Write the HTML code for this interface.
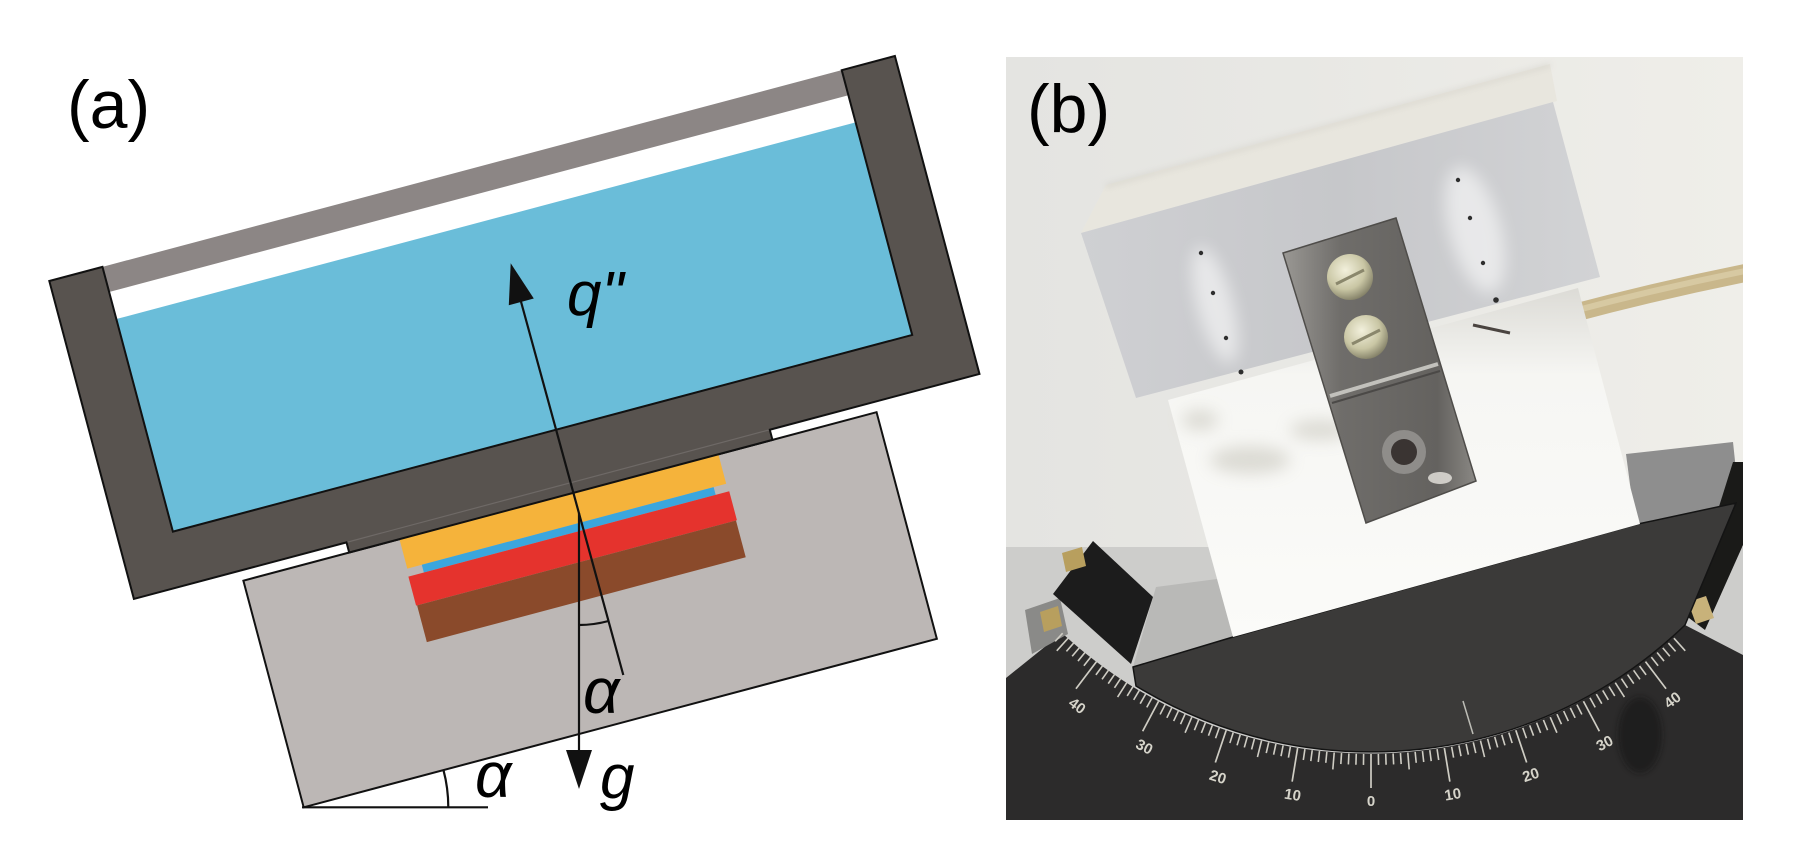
<!DOCTYPE html>
<html><head><meta charset="utf-8">
<style>
html,body{margin:0;padding:0;background:#fff;}
svg{display:block;}
text{font-family:"Liberation Sans",Arial,sans-serif;}
</style></head>
<body>
<svg width="1793" height="868" viewBox="0 0 1793 868" xmlns="http://www.w3.org/2000/svg">
<defs>
 <clipPath id="pc"><rect x="1006" y="57" width="737" height="763"/></clipPath>
 <filter id="blur8" x="-50%" y="-50%" width="200%" height="200%"><feGaussianBlur stdDeviation="8"/></filter>
 <filter id="blur3" x="-50%" y="-50%" width="200%" height="200%"><feGaussianBlur stdDeviation="3"/></filter>
 <linearGradient id="bgp" x1="0" y1="0" x2="1" y2="0">
  <stop offset="0" stop-color="#e4e4e1"/><stop offset="1" stop-color="#efeee9"/>
 </linearGradient>
 <linearGradient id="wb" x1="0" y1="0" x2="0" y2="1">
  <stop offset="0" stop-color="#dcdbd6"/><stop offset="0.25" stop-color="#f6f6f3"/><stop offset="1" stop-color="#fbfbf9"/>
 </linearGradient>
 <linearGradient id="al" x1="0" y1="0" x2="1" y2="0">
  <stop offset="0" stop-color="#cfd0d3"/><stop offset="0.5" stop-color="#c6c7ca"/><stop offset="1" stop-color="#d2d3d5"/>
 </linearGradient>
 <linearGradient id="br" x1="0" y1="0" x2="1" y2="0">
  <stop offset="0" stop-color="#9a9894"/><stop offset="0.3" stop-color="#6f6d6a"/><stop offset="0.8" stop-color="#64625f"/><stop offset="1" stop-color="#8a8884"/>
 </linearGradient>
 <radialGradient id="sc" cx="0.4" cy="0.35" r="0.7">
  <stop offset="0" stop-color="#f2f0dc"/><stop offset="0.6" stop-color="#c9c6a4"/><stop offset="1" stop-color="#7d7a62"/>
 </radialGradient>
 <line id="tm" x1="1371" y1="754" x2="1371" y2="765" stroke="#cfcdc4" stroke-width="1.6"/>
 <line id="t5" x1="1371" y1="754" x2="1371" y2="771" stroke="#cfcdc4" stroke-width="1.6"/>
 <line id="tt" x1="1371" y1="754" x2="1371" y2="788" stroke="#cfcdc4" stroke-width="1.7"/>
</defs>
<rect width="1793" height="868" fill="#fff"/>

<!-- ============ PANEL (a) ============ -->
<g transform="translate(49.3 281) rotate(-14.9)">
  <rect x="110.5" y="339.5" width="655.2" height="234.5" fill="#bcb7b5" stroke="#111" stroke-width="2"/>
  <rect x="272" y="340" width="330" height="30" fill="#f5b33b"/>
  <rect x="287" y="370" width="302" height="8" fill="#3ba6dd"/>
  <rect x="271" y="378" width="332" height="30" fill="#e5332d"/>
  <rect x="272" y="408" width="330" height="38" fill="#8a4a2b"/>
  <rect x="55" y="0" width="765" height="26" fill="#8c8685"/>
  <rect x="55" y="54" width="765" height="220" fill="#6abdd9"/>
  <path d="M0,0 L55,0 L55,274 L820,274 L820,0 L875,0 L875,329 L658,329 L658,339.5 L220,339.5 L220,329 L0,329 Z" fill="#58534f" stroke="#111" stroke-width="2"/>
  <line x1="221" y1="329" x2="657" y2="329" stroke="#6e6966" stroke-width="1.2"/>
</g>

<g stroke="#111" stroke-width="2.2" fill="none">
  <line x1="623.3" y1="675" x2="520" y2="298"/>
  <line x1="579" y1="513" x2="579" y2="755"/>
  <path d="M579,625 A112,112 0 0 0 608.5,621"/>
  <line x1="302" y1="807.3" x2="488" y2="807.3"/>
  <path d="M448.3,807.3 A145,145 0 0 0 443.4,769.8"/>
</g>
<polygon points="510.7,263.3 533.8,298.5 508.8,305.3" fill="#111"/>
<polygon points="579,789 566,750 592,750" fill="#111"/>

<text x="67" y="128" font-size="68" fill="#000">(a)</text>
<text x="567" y="315" font-size="62" font-style="italic" fill="#000">q"</text>
<text x="583" y="713" font-size="64" font-style="italic" fill="#000">α</text>
<text x="475" y="797" font-size="64" font-style="italic" fill="#000">α</text>
<text x="600" y="798" font-size="62" font-style="italic" fill="#000">g</text>

<!-- ============ PANEL (b) photo ============ -->
<g clip-path="url(#pc)">
  <rect x="1006" y="57" width="737" height="763" fill="url(#bgp)"/>
  <rect x="1006" y="547" width="737" height="273" fill="#cdcdcb"/>
  <polygon points="1626,454 1733,442 1740,508 1636,530" fill="#8e8e8e"/>

  <!-- fixed base -->
  <path d="M1006,678 L1062,633 A452,452 0 0 0 1685,625 L1743,655 L1743,820 L1006,820 Z" fill="#2c2b2b"/>
  <ellipse cx="1640" cy="735" rx="22" ry="38" fill="#161616" opacity="0.6" filter="url(#blur3)"/>
  <!-- left pieces -->
  <polygon points="1025,610 1060,598 1068,634 1032,654" fill="#8a8a88"/>
  <polygon points="1093,541 1153,597 1131,664 1053,594" fill="#1c1c1c"/>
  <polygon points="1062,553 1082,547 1086,566 1066,572" fill="#b89f5e"/>
  <polygon points="1040,612 1058,606 1062,626 1044,632" fill="#b89f5e"/>
  <polygon points="1156,587 1217,579 1233,637 1133,667" fill="#b9b9b7"/>
  <!-- right stand -->
  <polygon points="1733,462 1743,462 1743,545 1705,630 1685,615" fill="#1a1a18"/>
  <polygon points="1688,602 1706,596 1714,618 1696,624" fill="#c8b27a"/>

  <!-- cradle -->
  <path d="M1133,667 L1233,637 L1638,524 L1736,503 L1685,625 A452,452 0 0 1 1136,686 Z" fill="#3b3a39" stroke="#141414" stroke-width="1.5"/>
  <line x1="1463" y1="701" x2="1473" y2="734" stroke="#bdbdb6" stroke-width="1.5"/>

  <!-- ticks -->
  <use href="#tt"/>
  <use href="#tm" transform="rotate(0.93 1371 300)"/><use href="#tm" transform="rotate(1.86 1371 300)"/><use href="#tm" transform="rotate(2.79 1371 300)"/><use href="#tm" transform="rotate(3.72 1371 300)"/><use href="#t5" transform="rotate(4.65 1371 300)"/>
  <use href="#tm" transform="rotate(5.58 1371 300)"/><use href="#tm" transform="rotate(6.51 1371 300)"/><use href="#tm" transform="rotate(7.44 1371 300)"/><use href="#tm" transform="rotate(8.37 1371 300)"/><use href="#tt" transform="rotate(9.3 1371 300)"/>
  <use href="#tm" transform="rotate(10.23 1371 300)"/><use href="#tm" transform="rotate(11.16 1371 300)"/><use href="#tm" transform="rotate(12.09 1371 300)"/><use href="#tm" transform="rotate(13.02 1371 300)"/><use href="#t5" transform="rotate(13.95 1371 300)"/>
  <use href="#tm" transform="rotate(14.88 1371 300)"/><use href="#tm" transform="rotate(15.81 1371 300)"/><use href="#tm" transform="rotate(16.74 1371 300)"/><use href="#tm" transform="rotate(17.67 1371 300)"/><use href="#tt" transform="rotate(18.6 1371 300)"/>
  <use href="#tm" transform="rotate(19.53 1371 300)"/><use href="#tm" transform="rotate(20.46 1371 300)"/><use href="#tm" transform="rotate(21.39 1371 300)"/><use href="#tm" transform="rotate(22.32 1371 300)"/><use href="#t5" transform="rotate(23.25 1371 300)"/>
  <use href="#tm" transform="rotate(24.18 1371 300)"/><use href="#tm" transform="rotate(25.11 1371 300)"/><use href="#tm" transform="rotate(26.04 1371 300)"/><use href="#tm" transform="rotate(26.97 1371 300)"/><use href="#tt" transform="rotate(27.9 1371 300)"/>
  <use href="#tm" transform="rotate(28.83 1371 300)"/><use href="#tm" transform="rotate(29.76 1371 300)"/><use href="#tm" transform="rotate(30.69 1371 300)"/><use href="#tm" transform="rotate(31.62 1371 300)"/><use href="#t5" transform="rotate(32.55 1371 300)"/>
  <use href="#tm" transform="rotate(33.48 1371 300)"/><use href="#tm" transform="rotate(34.41 1371 300)"/><use href="#tm" transform="rotate(35.34 1371 300)"/><use href="#tm" transform="rotate(36.27 1371 300)"/><use href="#tt" transform="rotate(37.2 1371 300)"/>
  <use href="#tm" transform="rotate(38.13 1371 300)"/><use href="#tm" transform="rotate(39.06 1371 300)"/><use href="#tm" transform="rotate(39.99 1371 300)"/><use href="#tm" transform="rotate(40.92 1371 300)"/><use href="#t5" transform="rotate(41.85 1371 300)"/>
  <use href="#tm" transform="rotate(42.78 1371 300)"/>
  <use href="#tm" transform="rotate(-0.93 1371 300)"/><use href="#tm" transform="rotate(-1.86 1371 300)"/><use href="#tm" transform="rotate(-2.79 1371 300)"/><use href="#tm" transform="rotate(-3.72 1371 300)"/><use href="#t5" transform="rotate(-4.65 1371 300)"/>
  <use href="#tm" transform="rotate(-5.58 1371 300)"/><use href="#tm" transform="rotate(-6.51 1371 300)"/><use href="#tm" transform="rotate(-7.44 1371 300)"/><use href="#tm" transform="rotate(-8.37 1371 300)"/><use href="#tt" transform="rotate(-9.3 1371 300)"/>
  <use href="#tm" transform="rotate(-10.23 1371 300)"/><use href="#tm" transform="rotate(-11.16 1371 300)"/><use href="#tm" transform="rotate(-12.09 1371 300)"/><use href="#tm" transform="rotate(-13.02 1371 300)"/><use href="#t5" transform="rotate(-13.95 1371 300)"/>
  <use href="#tm" transform="rotate(-14.88 1371 300)"/><use href="#tm" transform="rotate(-15.81 1371 300)"/><use href="#tm" transform="rotate(-16.74 1371 300)"/><use href="#tm" transform="rotate(-17.67 1371 300)"/><use href="#tt" transform="rotate(-18.6 1371 300)"/>
  <use href="#tm" transform="rotate(-19.53 1371 300)"/><use href="#tm" transform="rotate(-20.46 1371 300)"/><use href="#tm" transform="rotate(-21.39 1371 300)"/><use href="#tm" transform="rotate(-22.32 1371 300)"/><use href="#t5" transform="rotate(-23.25 1371 300)"/>
  <use href="#tm" transform="rotate(-24.18 1371 300)"/><use href="#tm" transform="rotate(-25.11 1371 300)"/><use href="#tm" transform="rotate(-26.04 1371 300)"/><use href="#tm" transform="rotate(-26.97 1371 300)"/><use href="#tt" transform="rotate(-27.9 1371 300)"/>
  <use href="#tm" transform="rotate(-28.83 1371 300)"/><use href="#tm" transform="rotate(-29.76 1371 300)"/><use href="#tm" transform="rotate(-30.69 1371 300)"/><use href="#tm" transform="rotate(-31.62 1371 300)"/><use href="#t5" transform="rotate(-32.55 1371 300)"/>
  <use href="#tm" transform="rotate(-33.48 1371 300)"/><use href="#tm" transform="rotate(-34.41 1371 300)"/><use href="#tm" transform="rotate(-35.34 1371 300)"/><use href="#tm" transform="rotate(-36.27 1371 300)"/><use href="#tt" transform="rotate(-37.2 1371 300)"/>
  <use href="#tm" transform="rotate(-38.13 1371 300)"/><use href="#tm" transform="rotate(-39.06 1371 300)"/><use href="#tm" transform="rotate(-39.99 1371 300)"/><use href="#tm" transform="rotate(-40.92 1371 300)"/><use href="#t5" transform="rotate(-41.85 1371 300)"/>

  <!-- scale labels -->
  <g font-size="15" font-weight="bold" fill="#d6d4ca" text-anchor="middle">
    <text x="1371" y="806">0</text>
    <text x="1371" y="806" transform="rotate(9 1371 300)">10</text>
    <text x="1371" y="806" transform="rotate(17.8 1371 300)">20</text>
    <text x="1371" y="806" transform="rotate(26.9 1371 300)">30</text>
    <text x="1371" y="806" transform="rotate(35.9 1371 300)">40</text>
    <text x="1371" y="806" transform="rotate(-9.4 1371 300)">10</text>
    <text x="1371" y="806" transform="rotate(-18.6 1371 300)">20</text>
    <text x="1371" y="806" transform="rotate(-27.8 1371 300)">30</text>
    <text x="1371" y="806" transform="rotate(-37 1371 300)">40</text>
  </g>

  <!-- cable -->
  <path d="M1570,314 Q1660,290 1750,272" stroke="#c9b78b" stroke-width="18" fill="none"/>
  <path d="M1570,312 Q1660,288 1750,270" stroke="#ddd0ac" stroke-width="6" fill="none" opacity="0.7"/>

  <!-- white block -->
  <polygon points="1168,400 1578,288 1640,524 1233,637" fill="url(#wb)"/>
  <path d="M1473,325 L1510,333" stroke="#4a4440" stroke-width="3"/>
  <g filter="url(#blur8)" opacity="0.35" fill="#a9a698">
    <ellipse cx="1250" cy="460" rx="40" ry="14"/>
    <ellipse cx="1320" cy="430" rx="30" ry="10"/>
    <ellipse cx="1200" cy="420" rx="18" ry="10"/>
  </g>

  <!-- aluminium block -->
  <polygon points="1106,185 1550,64 1557,101 1081,233" fill="#e8e6de"/>
  <polygon points="1081,233 1553,102 1600,277 1136,398" fill="url(#al)"/>
  <g filter="url(#blur8)" fill="#ffffff" opacity="0.55">
    <ellipse cx="1215" cy="305" rx="18" ry="60" transform="rotate(-15 1215 305)"/>
    <ellipse cx="1475" cy="230" rx="26" ry="65" transform="rotate(-15 1475 230)"/>
  </g>
  <path d="M1106,186 L1550,65" stroke="#cfcdc4" stroke-width="2" filter="url(#blur3)"/>
  <g fill="#2e2e2e">
    <circle cx="1201" cy="253" r="2.2"/><circle cx="1213" cy="293" r="2.2"/><circle cx="1226" cy="338" r="2.2"/><circle cx="1241" cy="372" r="2.5"/>
    <circle cx="1458" cy="180" r="2.2"/><circle cx="1470" cy="218" r="2.2"/><circle cx="1483" cy="263" r="2.2"/><circle cx="1496" cy="300" r="2.8"/>
  </g>

  <!-- bracket -->
  <polygon points="1283,253 1396,218 1476,481 1366,523" fill="url(#br)" stroke="#4f4d4a" stroke-width="1.5"/>
  <path d="M1330,396 L1438,364" stroke="#c2c1bc" stroke-width="4"/>
  <path d="M1332,403 L1440,371" stroke="#4b4947" stroke-width="2"/>
  <circle cx="1350" cy="277" r="23" fill="url(#sc)"/>
  <path d="M1336,284 L1364,270" stroke="#8a876c" stroke-width="3"/>
  <circle cx="1366" cy="337" r="22" fill="url(#sc)"/>
  <path d="M1352,344 L1380,330" stroke="#8a876c" stroke-width="3"/>
  <circle cx="1404" cy="452" r="22" fill="#8f8d8a"/>
  <circle cx="1404" cy="452" r="13" fill="#3a3432"/>
  <ellipse cx="1440" cy="478" rx="12" ry="6" fill="#e8e6e0" opacity="0.8"/>
</g>

<text x="1027" y="132" font-size="68" fill="#000">(b)</text>
</svg>
</body></html>
